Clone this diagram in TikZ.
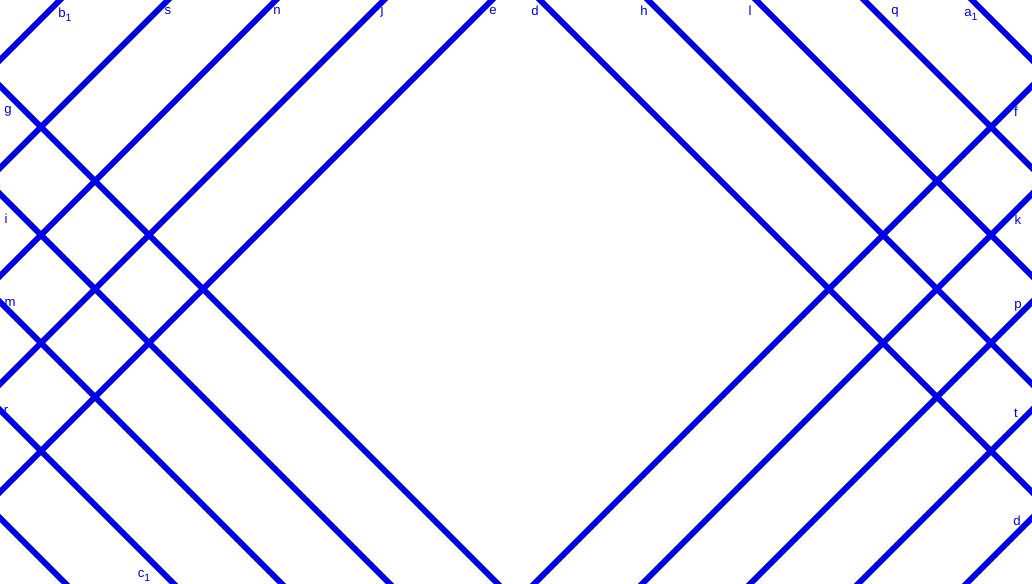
\documentclass[tikz,border=0pt]{standalone}
\usepackage{fontspec}
\setmainfont{Liberation Sans}
\usepackage{tikz}
\definecolor{lineblue}{RGB}{0,0,230}
\tikzstyle{ray} = [lineblue, line width=3.3pt]
\tikzstyle{lbl} = [text=lineblue, font=\fontsize{7.5}{8}\selectfont, inner sep=0pt]
\newcommand{\lsub}[1]{\raisebox{-0.55ex}{\fontsize{6}{7}\selectfont #1}}

\begin{document}
\begin{tikzpicture}[x=0.02cm,y=-0.02cm]
	\useasboundingbox (0,0) rectangle (1032,584);
	\clip (0,0) rectangle (1032,584);
	
	% Rising lines x+y=c
	\foreach \c in {60,168,276,384,492,1118,1226,1334,1442,1550}
		\draw [ray] (\c-700,700) -- (\c+100,-100);
	
	% Falling lines x-y=c
	\foreach \c in {540,648,756,864,972,-86,-194,-302,-410,-518}
		\draw [ray] (\c-100,-100) -- (\c+700,700);
	
	% Labels on top
	\node [lbl] (b1) at (65,15) {b\lsub{1}};
	\node [lbl] (s) at (168,11) {s};
	\node [lbl] (n) at (277,11) {n};
	\node [lbl] (j) at (382,11) {j};
	\node [lbl] (e) at (493,11) {e};
	\node [lbl] (d) at (535,11) {d};
	\node [lbl] (h) at (644,11) {h};
	\node [lbl] (l) at (750,11) {l};
	\node [lbl] (q) at (895,12) {q};
	\node [lbl] (a1) at (971,15) {a\lsub{1}};
	
	% Labels on the sides
	\node [lbl] (g) at (8,111) {g};
	\node [lbl] (i) at (6,219) {i};
	\node [lbl] (m) at (10,303) {m};
	\node [lbl] (r) at (6,411) {r};
	\node [lbl] (c1) at (144,576) {c\lsub{1}};
	\node [lbl] (f) at (1016,112) {f};
	\node [lbl] (k) at (1018,220) {k};
	\node [lbl] (p) at (1018,306) {p};
	\node [lbl] (t) at (1016,413) {t};
	\node [lbl] (d2) at (1017,521) {d};
	
\end{tikzpicture}
\end{document}
